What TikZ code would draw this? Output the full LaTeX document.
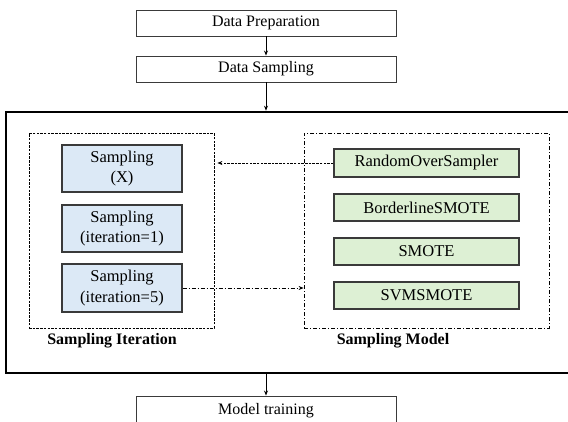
\documentclass[tikz,border=0pt]{standalone}
\usepackage{fontspec}
\setmainfont{Liberation Serif}
\usetikzlibrary{arrows.meta}
\definecolor{bluefill}{HTML}{DCE9F6}
\definecolor{greenfill}{HTML}{DDF0D4}
\definecolor{edge}{HTML}{3A3A3A}
\tikzset{
  plainbox/.style={draw=edge, line width=0.9pt, fill=white, inner sep=0pt, font=\fontsize{16}{18}\selectfont},
  bluebox/.style={draw=edge, line width=1.1pt, fill=bluefill, inner sep=0pt, minimum width=120pt, align=center, font=\fontsize{16.5}{20.5}\selectfont},
  greenbox/.style={draw=edge, line width=1.1pt, fill=greenfill, inner sep=0pt, minimum width=185pt, minimum height=27pt, font=\fontsize{16.5}{18}\selectfont},
  grouplabel/.style={font=\fontsize{16}{18}\selectfont\bfseries},
  flow/.style={draw=black, line width=0.8pt, -{Stealth[length=5pt,width=4pt]}},
}
\begin{document}
\begin{tikzpicture}[x=1pt,y=-1pt]
\useasboundingbox (0,0) rectangle (568,421);
\clip (0,0) rectangle (568,421);
\fill[white] (0,0) rectangle (568,421);
% outer flow boxes
\node[plainbox, minimum width=260pt, minimum height=26pt] (prep) at (266,23) {Data Preparation};
\node[plainbox, minimum width=260pt, minimum height=26pt] (samp) at (266,69) {Data Sampling};
\node[draw=black, line width=2.6pt, inner sep=0pt, minimum width=574pt, minimum height=261pt] (big) at (293,242.5) {};
\node[plainbox, minimum width=260pt, minimum height=30pt] (train) at (266,411) {};
\node[font=\fontsize{16}{18}\selectfont] (traintext) at (266,411) {Model training};
% group boxes
\node[draw=black, line width=0.8pt, dash pattern=on 2.5pt off 1.2pt, inner sep=0pt, minimum width=185pt, minimum height=195pt] (iter) at (121.5,230.5) {};
\node[draw=black, line width=0.8pt, dash pattern=on 4pt off 2pt on 1pt off 2pt, inner sep=0pt, minimum width=245pt, minimum height=195pt] (model) at (426.5,230.5) {};
% sampling iteration boxes
\node[bluebox, minimum height=47pt] (b1) at (122,168.5) {Sampling\\(X)};
\node[bluebox, minimum height=47pt] (b2) at (122,228.5) {Sampling\\(iteration=1)};
\node[bluebox, minimum height=48pt] (b3) at (122,288) {Sampling\\(iteration=5)};
% sampling model boxes
\node[greenbox, minimum height=28pt] (g1) at (426.5,163) {RandomOverSampler};
\node[greenbox] (g2) at (426.5,207.5) {BorderlineSMOTE};
\node[greenbox] (g3) at (426.5,251.5) {SMOTE};
\node[greenbox] (g4) at (426.5,295.5) {SVMSMOTE};
% labels
\node[grouplabel] (lit) at (112,341) {Sampling Iteration};
\node[grouplabel] (lmo) at (393,341) {Sampling Model};
% connectors
\draw[flow] (prep.south) -- (samp.north);
\draw[flow] (samp.south) -- (samp.south |- big.north);
\draw[flow] (train.north |- big.south) -- (train.north);
\draw[flow, dash pattern=on 2.5pt off 1.2pt, shorten >=3pt] (g1.west) -- (iter.east |- g1.west);
\draw[flow, dash pattern=on 4pt off 2pt on 1pt off 2pt] (b3.east) -- (model.west |- b3.east);
\end{tikzpicture}
\end{document}
